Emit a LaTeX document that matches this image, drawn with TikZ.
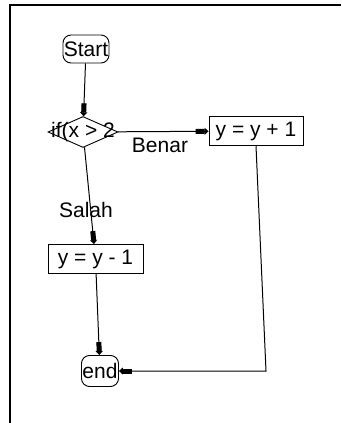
\documentclass[tikz,border=0pt]{standalone}
\usepackage{fontspec}
\setmainfont{Liberation Sans}
\usepackage{tikz}
\usetikzlibrary{arrows.meta,shapes.geometric}
\tikzset{box/.style={draw,line width=.9pt,inner sep=0pt,font=\fontsize{21}{24}\selectfont},terminal/.style={box,rounded corners=8pt},process/.style={box,rectangle},decision/.style={box,diamond,aspect=2.2},flow/.style={-{Rectangle[length=9pt,width=5pt]Triangle[length=4pt,width=7pt]},line width=1pt},branch label/.style={font=\fontsize{21}{24}\selectfont,inner sep=0pt},frame/.style={line width=2pt}}

\begin{document}
\begin{tikzpicture}[x=1pt,y=-1pt]
 \useasboundingbox (0,0) rectangle (341,423);
 \draw[frame] (10,423) |- (341,5);

 \node[terminal,minimum width=46pt,minimum height=28pt] (start) at (86,49) {Start};
 \node[decision,minimum width=70pt,minimum height=31pt,label={[branch label]center:if(x > 2}] (cond) at (83,132) {};
 \node[process,minimum width=94pt,minimum height=29pt] (inc) at (256,131) {y = y + 1};
 \node[process,minimum width=95pt,minimum height=29pt] (dec) at (95.5,259) {y = y - 1};
 \node[terminal,minimum width=37pt,minimum height=31pt] (stop) at (100,371) {end};
 \coordinate (corner) at (266,371);

 % branch names sit on the lines, no boxes
 \node[branch label] (yes) at (160,145) {Benar};
 \node[branch label] (no) at (86,210) {Salah};

 \foreach \src/\dst in {start/cond,cond/inc,cond/dec,dec/stop} {\draw[flow] (\src)--(\dst);}
 \draw[flow] (inc.south)--(corner)--(stop.east);
\end{tikzpicture}
\end{document}
